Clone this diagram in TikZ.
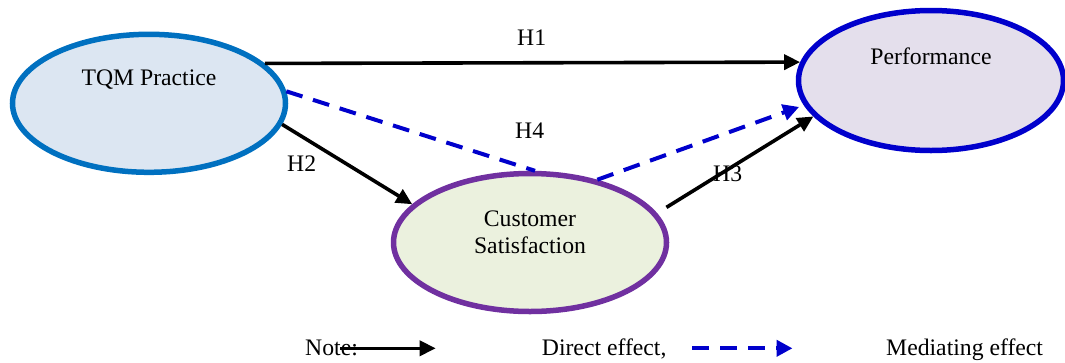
\documentclass[tikz,border=0pt]{standalone}
\usepackage{fontspec}
\setmainfont{Liberation Serif}
\usepackage{tikz}
\usetikzlibrary{arrows.meta,shapes.geometric}
\definecolor{tqmline}{RGB}{0,112,192}
\definecolor{tqmfill}{RGB}{220,230,242}
\definecolor{perfline}{RGB}{0,0,204}
\definecolor{perffill}{RGB}{228,223,236}
\definecolor{csline}{RGB}{112,48,160}
\definecolor{csfill}{RGB}{235,241,222}
\definecolor{medblue}{RGB}{0,0,204}
\tikzset{
  txt/.style={font=\fontsize{23.7}{26.7}\selectfont, inner sep=0pt, align=center},
  construct/.style={ellipse, line width=5.5pt, inner sep=0pt},
  tqmnode/.style={construct, draw=tqmline, fill=tqmfill, minimum width=273pt, minimum height=138pt},
  perfnode/.style={construct, draw=perfline, fill=perffill, minimum width=265pt, minimum height=140pt},
  csnode/.style={construct, draw=csline, fill=csfill, minimum width=273pt, minimum height=138pt},
  direct/.style={-{Triangle[length=16pt,width=15pt]}, line width=3.6pt},
  medi/.style={draw=medblue, line width=4pt, dash pattern=on 17pt off 11pt},
  medarr/.style={medi, -{Triangle[length=16pt,width=16pt]}, medblue},
}

\begin{document}
\begin{tikzpicture}[x=1pt,y=-1pt]
\useasboundingbox (0,0) rectangle (1065,362);
% constructs
\node[tqmnode, label={[txt, yshift=24pt]center:TQM Practice}] (tqm) at (149,103.3) {};
\node[perfnode, label={[txt, yshift=24.5pt]center:Performance}] (perf) at (931,80.5) {};
\node[csnode, label={[txt, yshift=10.5pt]center:{Customer\\Satisfaction}}] (cs) at (530,242.5) {};
% hypotheses
\draw[direct] (tqm.19) -- (perf.172.5);
\draw[direct] (tqm.-9.3) -- (cs.162);
\draw[direct, shorten <=11pt] (cs.13) -- (perf.197);
\draw[medi] (tqm.5.7) -- (cs.86);
\draw[medarr, shorten >=5pt] (cs.43) -- (perf.191.2);
\node[txt, anchor=base west] (h1) at (517,45) {H1};
\node[txt, anchor=base west] (h2) at (287,171.7) {H2};
\node[txt, anchor=base west] (h3) at (713,181.7) {H3};
\node[txt, anchor=base west] (h4) at (515,138.3) {H4};
% legend
\node[txt, anchor=base west] (note) at (305,355) {Note:};
\node[txt, anchor=base west] (dirtxt) at (541.7,355) {Direct effect,};
\node[txt, anchor=base west] (medtxt) at (886,355) {Mediating effect};
\coordinate (ds) at (340,348.3);
\coordinate (de) at (435.7,348.3);
\coordinate (ms) at (692,348.3);
\coordinate (me) at (792.5,348.3);
\draw[direct] (ds) -- (de);
\draw[medarr] (ms) -- (me);
\end{tikzpicture}
\end{document}
